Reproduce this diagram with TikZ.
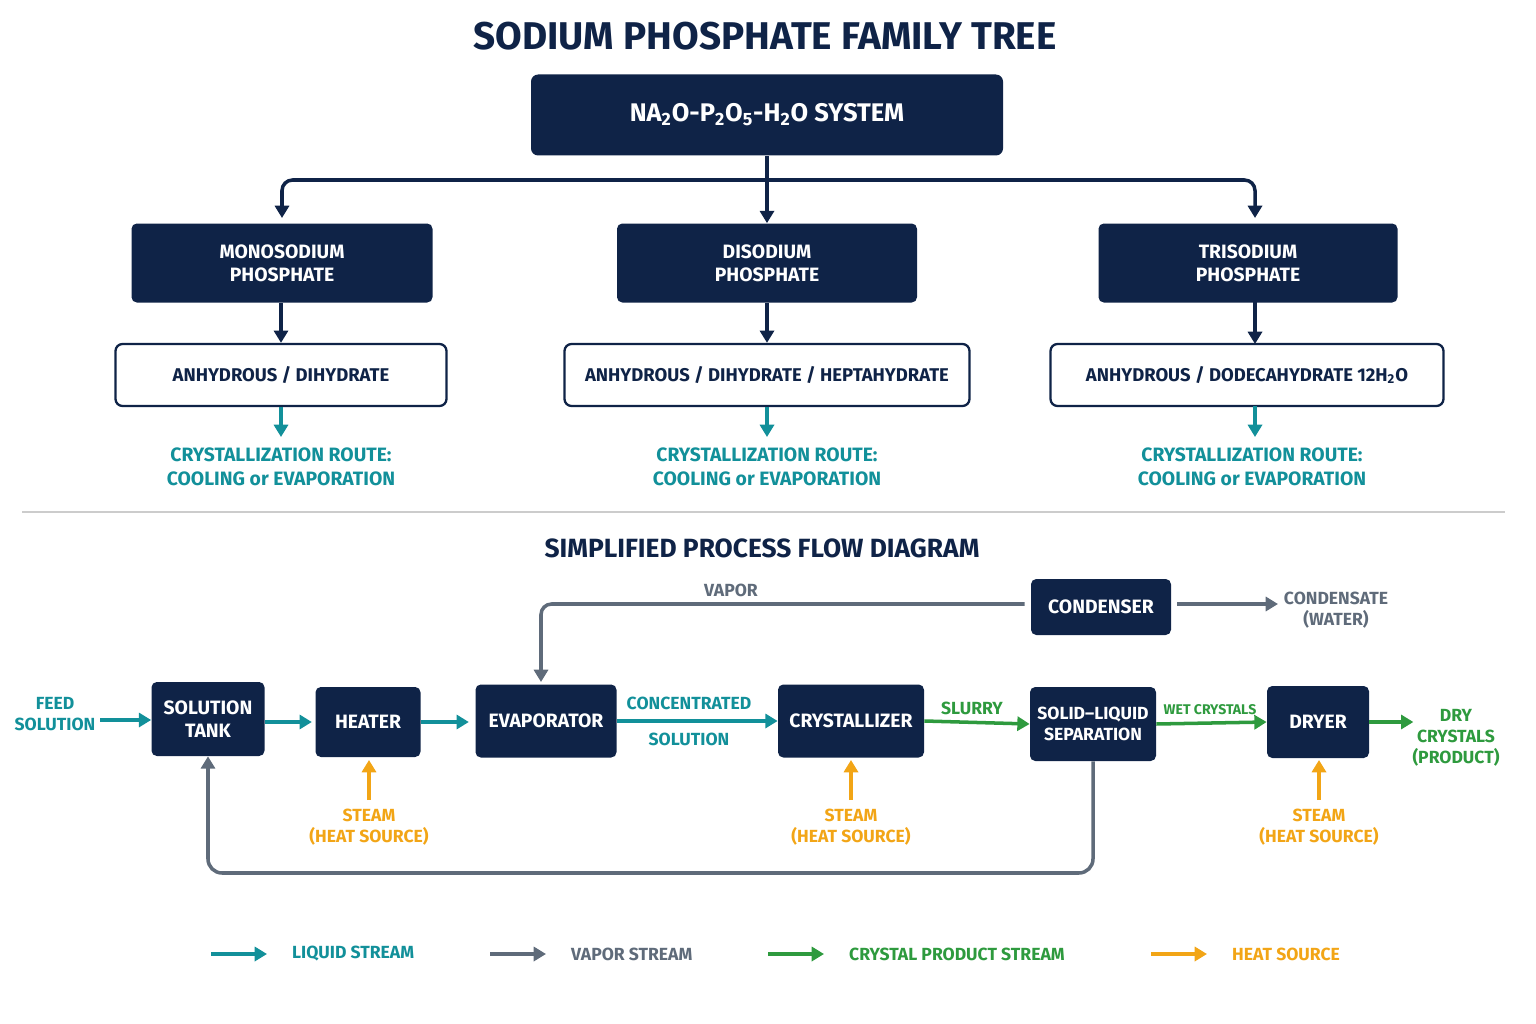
\documentclass[tikz,border=0pt]{standalone}
\usepackage{fontspec}
\setmainfont{Fira Sans}
\usetikzlibrary{arrows.meta,positioning}
\definecolor{navy}{HTML}{0F2347}
\definecolor{teal}{HTML}{12909A}
\definecolor{slate}{HTML}{5F6B7A}
\definecolor{leaf}{HTML}{2E9A3E}
\definecolor{amber}{HTML}{F2A516}
\tikzset{
	box/.style={fill=navy, rounded corners=3pt, text=white, font=\bfseries\fontsize{11}{13}\selectfont, align=center, inner sep=0pt},
	bigbox/.style={fill=navy, rounded corners=4pt, text=white, font=\bfseries\fontsize{14.5}{17}\selectfont, align=center, inner sep=0pt},
	white box/.style={draw=navy, line width=1.3pt, fill=white, rounded corners=4pt, text=navy, font=\bfseries\fontsize{10.5}{12}\selectfont, inner sep=0pt},
	lbl/.style={font=\bfseries\fontsize{10}{12}\selectfont, align=center},
	navyarrow/.style={draw=navy, line width=2pt, -{Triangle[length=7pt,width=8pt]}},
	flow/.style={line width=2pt, -{Triangle[length=7pt,width=8pt]}}
}
\begin{document}
\begin{tikzpicture}[x=0.02cm, y=-0.02cm]
	\useasboundingbox (0,0) rectangle (1536,1024);

	% Titel
	\node[text=navy, font=\bfseries\fontsize{22}{26}\selectfont] (title) at (765,36) {SODIUM PHOSPHATE FAMILY TREE};
	\node[bigbox, minimum width=472*0.02cm, minimum height=81*0.02cm] (sys) at (767,115) {NA\textsubscript{2}O-P\textsubscript{2}O\textsubscript{5}-H\textsubscript{2}O SYSTEM};

	% Salze
	\node[box, minimum width=301*0.02cm, minimum height=79*0.02cm] (mono) at (282,263) {MONOSODIUM\\PHOSPHATE};
	\node[box, minimum width=300*0.02cm, minimum height=79*0.02cm] (di) at (767,263) {DISODIUM\\PHOSPHATE};
	\node[box, minimum width=299*0.02cm, minimum height=79*0.02cm] (tri) at (1248,263) {TRISODIUM\\PHOSPHATE};
	\coordinate (split) at (767,180);
	\draw[navyarrow] (sys.south) -- (di.north);
	\draw[navyarrow, rounded corners=6pt] (split) -- (282,180) -- (282,218);
	\draw[navyarrow, rounded corners=6pt] (split) -- (1255,180) -- (1255,218);

	% Hydrate
	\node[white box, minimum width=331*0.02cm, minimum height=62*0.02cm] (hmono) at (281,375) {ANHYDROUS / DIHYDRATE};
	\node[white box, minimum width=405*0.02cm, minimum height=62*0.02cm] (hdi) at (767,375) {ANHYDROUS / DIHYDRATE / HEPTAHYDRATE};
	\node[white box, minimum width=393*0.02cm, minimum height=62*0.02cm] (htri) at (1247,375) {ANHYDROUS / DODECAHYDRATE 12H\textsubscript{2}O};
	\draw[navyarrow] (mono.south -| hmono) -- (hmono.north);
	\draw[navyarrow] (di.south) -- (hdi.north);
	\draw[navyarrow] (1255,302) -- (1255,344);

	\foreach \n/\x in {mono/281, di/767, tri/1252}{
		\node[lbl, text=teal, font=\bfseries\fontsize{11}{14}\selectfont] (r\n) at (\x,467) {CRYSTALLIZATION ROUTE:\\COOLING or EVAPORATION};
	}
	\draw[flow, teal] (hmono.south) -- (281,437);
	\draw[flow, teal] (hdi.south) -- (767,437);
	\draw[flow, teal] (1255,406) -- (1255,437);

	\draw[black!20, line width=1pt] (22,512) -- (1505,512);

	% Prozess
	\node[text=navy, font=\bfseries\fontsize{15}{18}\selectfont] (sub) at (762,548) {SIMPLIFIED PROCESS FLOW DIAGRAM};
	\node[box, minimum width=140*0.02cm, minimum height=56*0.02cm] (cond) at (1101,607) {CONDENSER};
	\node[box, minimum width=113*0.02cm, minimum height=74*0.02cm] (tank) at (208,719) {SOLUTION\\TANK};
	\node[box, minimum width=105*0.02cm, minimum height=70*0.02cm] (heat) at (368,722) {HEATER};
	\node[box, minimum width=141*0.02cm, minimum height=73*0.02cm] (evap) at (546,721) {EVAPORATOR};
	\node[box, minimum width=146*0.02cm, minimum height=73*0.02cm] (cryst) at (851,721) {CRYSTALLIZER};
	\node[box, minimum width=126*0.02cm, minimum height=74*0.02cm, font=\bfseries\fontsize{10}{12}\selectfont] (sep) at (1093,724) {SOLID--LIQUID\\SEPARATION};
	\node[box, minimum width=102*0.02cm, minimum height=72*0.02cm] (dryer) at (1318,722) {DRYER};

	\node[lbl, text=teal] (feed) at (55,714) {FEED\\SOLUTION};
	\coordinate (feedend) at (100,720);
	\draw[flow, teal] (feedend) -- (tank.west |- feedend);
	\draw[flow, teal] (tank.east |- heat) -- ++(47,0);
	\draw[flow, teal] (heat.east) -- ++(48,0);
	\draw[flow, teal] (evap.east) -- (cryst.west);
	\node[lbl, text=teal] (conc) at (689,703) {CONCENTRATED};
	\node[lbl, text=teal] (soln) at (689,739) {SOLUTION};
	\draw[flow, leaf] (cryst.east) -- (sep.west);
	\node[lbl, text=leaf] (slurry) at (972,708) {SLURRY};
	\draw[flow, leaf] (sep.east) -- (dryer.west);
	\node[lbl, text=leaf, font=\bfseries\fontsize{8}{10}\selectfont] (wet) at (1210,710) {WET CRYSTALS};
	\node[lbl, text=leaf] (dry) at (1456,738) {DRY\\CRYSTALS\\(PRODUCT)};
	\draw[flow, leaf] (dryer.east) -- ++(44,0);

	% Dampf
	\draw[flow, slate, rounded corners=6pt] (cond.west) ++(-6,-3) -- (541,604) -- (541,682);
	\node[lbl, text=slate] (vapor) at (731,590) {VAPOR};
	\node[lbl, text=slate] (cwater) at (1336,610) {CONDENSATE\\(WATER)};
	\draw[flow, slate] (cond.east) ++(6,-3) -- (1278,604);
	\draw[flow, slate, rounded corners=8pt] (sep.south) -- (1093,873) -- (208,873) -- (tank.south);

	% Heizdampf
	\foreach \n/\x in {heat/369, cryst/851, dryer/1319}{
		\node[lbl, text=amber] (s\n) at (\x,827) {STEAM\\(HEAT SOURCE)};
		\draw[flow, amber] (\x,800) -- (\x,760);
	}

	% Legende
	\foreach \c/\x/\t in {teal/211/LIQUID STREAM, slate/490/VAPOR STREAM, leaf/768/CRYSTAL PRODUCT STREAM, amber/1151/HEAT SOURCE}{
		\draw[flow, \c] (\x,954) -- ++(56,0) node[right=10pt, lbl, text=\c] {\t};
	}
\end{tikzpicture}
\end{document}
